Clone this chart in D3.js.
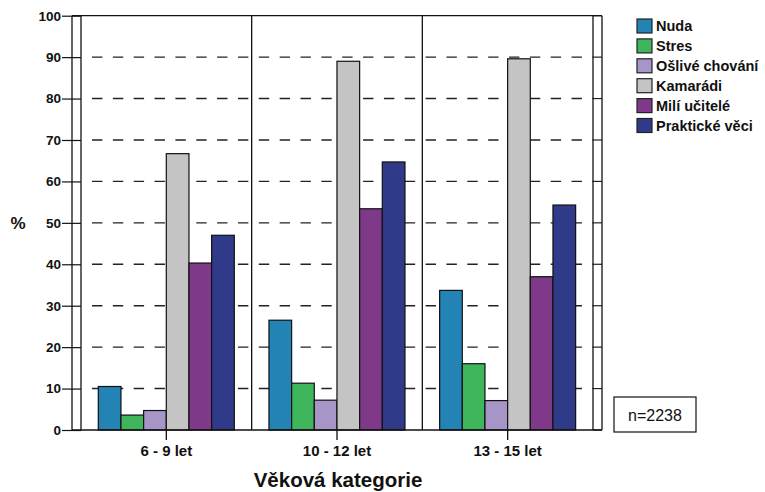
<!DOCTYPE html>
<html><head><meta charset="utf-8">
<script src="https://cdn.jsdelivr.net/npm/d3@7"></script>
<style>body{margin:0;background:#fff} svg{display:block} text{font-family:"Liberation Sans",Arial,sans-serif}</style>
</head><body><svg id="c" width="765" height="492"></svg>
<script>
const categories = ["6 - 9 let", "10 - 12 let", "13 - 15 let"];
const seriesNames = ["Nuda", "Stres", "Ošlivé chování", "Kamarádi", "Milí učitelé", "Praktické věci"];
const nuda = [10.5, 26.5, 33.7];
const stres = [3.6, 11.3, 16.0];
const oslive = [4.7, 7.2, 7.1];
const kamaradi = [66.7, 89.0, 89.6];
const mili = [40.3, 53.4, 37.0];
const prakticke = [47.0, 64.7, 54.3];
const yTicks = [0, 10, 20, 30, 40, 50, 60, 70, 80, 90, 100];
const colors = ["#2383b5", "#3fb65c", "#a895c8", "#c3c4c3", "#7e3a88", "#2f3b88"];
const xTitle = "Věková kategorie";
const yTitle = "%";
const note = "n=2238";

const seriesValues = [nuda, stres, oslive, kamaradi, mili, prakticke];
const data = [];
categories.forEach((c, ci) => seriesNames.forEach((s, si) => data.push({c, s, si, v: seriesValues[si][ci]})));

const svg = d3.select("#c");
const L = 81, R = 593, T = 15.7, B = 430;
const y = d3.scaleLinear().domain([0, 100]).range([B, T]);
const x0 = d3.scaleBand().domain(categories).range([L, R]).padding(0);
const x1 = d3.scaleBand().domain(seriesNames).range([17.3, 153.3]).padding(0);
const color = d3.scaleOrdinal().domain(seriesNames).range(colors);

// dashed gridlines
svg.append("g").selectAll("line").data(yTicks.filter(t => t > 0 && t < 100)).join("line")
  .attr("x1", 92).attr("x2", R).attr("y1", d => y(d)).attr("y2", d => y(d))
  .attr("stroke", "#222").attr("stroke-width", 1.4).attr("stroke-dasharray", "10.4,10.45");

// right ticks between double lines
svg.append("g").selectAll("line").data(yTicks).join("line")
  .attr("x1", R).attr("x2", R + 9).attr("y1", d => y(d)).attr("y2", d => y(d))
  .attr("stroke", "#222").attr("stroke-width", 1.2);

// left axis
const ya = svg.append("g").attr("transform", `translate(${L},0)`)
  .call(d3.axisLeft(y).tickValues(yTicks).tickSize(19).tickPadding(1));
ya.select(".domain").remove();
ya.selectAll(".tick line").attr("stroke", "#111").attr("stroke-width", 1.2);
ya.selectAll(".tick text").attr("font-size", 13.5).attr("font-weight", "bold").attr("fill", "#111")
  .attr("font-family", "Liberation Sans, Arial, sans-serif");

// frame lines
const frame = svg.append("g").attr("stroke", "#111").attr("stroke-width", 1.3);
[L - 9, L, R, R + 9].forEach(xv => frame.append("line").attr("x1", xv).attr("x2", xv).attr("y1", T).attr("y2", B));
frame.append("line").attr("x1", L - 9).attr("x2", R + 9).attr("y1", T).attr("y2", T);
categories.slice(1).forEach(c => frame.append("line").attr("x1", x0(c)).attr("x2", x0(c)).attr("y1", T).attr("y2", B));

// bars
svg.append("g").selectAll("rect").data(data).join("rect")
  .attr("x", d => x0(d.c) + x1(d.s)).attr("width", x1.bandwidth())
  .attr("y", d => y(d.v)).attr("height", d => B - y(d.v))
  .attr("fill", d => color(d.s)).attr("stroke", "#111").attr("stroke-width", 1.2);

// bottom axis
const xa = svg.append("g").attr("transform", `translate(0,${B})`)
  .call(d3.axisBottom(x0).tickSize(10).tickPadding(5));
xa.select(".domain").remove();
xa.selectAll(".tick line").attr("stroke", "#111").attr("stroke-width", 1.3);
xa.selectAll(".tick text").attr("font-size", 15).attr("font-weight", "bold").attr("fill", "#111")
  .attr("font-family", "Liberation Sans, Arial, sans-serif");
svg.append("line").attr("x1", L - 9).attr("x2", R + 9).attr("y1", B).attr("y2", B)
  .attr("stroke", "#111").attr("stroke-width", 1.4);

// titles
svg.append("text").attr("x", 338).attr("y", 487).attr("text-anchor", "middle")
  .attr("font-size", 20.5).attr("font-weight", "bold").attr("fill", "#111").text(xTitle);
svg.append("text").attr("x", 18).attr("y", 229).attr("text-anchor", "middle")
  .attr("font-size", 17).attr("font-weight", "bold").attr("fill", "#111").text(yTitle);

// legend
const lg = svg.append("g").selectAll("g").data(seriesNames).join("g")
  .attr("transform", (d, i) => `translate(637,${19 + i * 19.9})`);
lg.append("rect").attr("width", 15).attr("height", 14).attr("fill", d => color(d))
  .attr("stroke", "#222").attr("stroke-width", 1.2);
lg.append("text").attr("x", 19).attr("y", 12).attr("font-size", 14.5).attr("font-weight", "bold")
  .attr("fill", "#111").text(d => d);

// note box
svg.append("rect").attr("x", 614).attr("y", 397).attr("width", 82).attr("height", 35)
  .attr("fill", "#fff").attr("stroke", "#111").attr("stroke-width", 1.2);
svg.append("text").attr("x", 655).attr("y", 421).attr("text-anchor", "middle")
  .attr("font-size", 16).attr("fill", "#111").text(note);
</script></body></html>
